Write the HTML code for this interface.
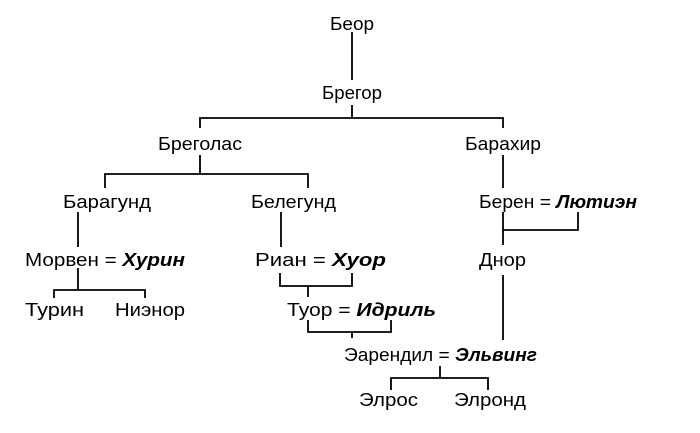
<!DOCTYPE html>
<html><head><meta charset="utf-8"><style>
html,body{margin:0;padding:0;background:#fff;}
svg{display:block;}
text{font-family:"Liberation Sans Narrow","Liberation Sans",sans-serif;font-size:18px;fill:#000;}
.i{font-style:italic;font-weight:bold;}
</style></head><body>
<svg width="700" height="433" viewBox="0 0 700 433" xmlns="http://www.w3.org/2000/svg">
<g stroke="#000" stroke-width="1.8" fill="none">
<path d="M352 32V80"/>
<path d="M352 105V118M200 128V118H503V128"/>
<path d="M200 155V174M105 188V174H308V188"/>
<path d="M503 155V188"/>
<path d="M78 212V247M281 212V247"/>
<path d="M503 212V245M578 212V230H503"/>
<path d="M78 268V290M54 298V290H145V298"/>
<path d="M280 273V286H352V273M308 286V297"/>
<path d="M308 320V332H391V320M352 332V338"/>
<path d="M503 275V340"/>
<path d="M440 366V378M391 390V378H488V390"/>
</g>
<text x="330" y="30" textLength="44" lengthAdjust="spacingAndGlyphs">Беор</text>
<text x="322" y="99" textLength="60" lengthAdjust="spacingAndGlyphs">Брегор</text>
<text x="158" y="150" textLength="84" lengthAdjust="spacingAndGlyphs">Бреголас</text>
<text x="465" y="150" textLength="76" lengthAdjust="spacingAndGlyphs">Барахир</text>
<text x="63" y="208" textLength="88" lengthAdjust="spacingAndGlyphs">Барагунд</text>
<text x="251" y="208" textLength="85" lengthAdjust="spacingAndGlyphs">Белегунд</text>
<text x="479" y="208" textLength="158" lengthAdjust="spacingAndGlyphs">Берен = <tspan class="i">Лютиэн</tspan></text>
<text x="25" y="266" textLength="160" lengthAdjust="spacingAndGlyphs">Морвен = <tspan class="i">Хурин</tspan></text>
<text x="255" y="266" textLength="131" lengthAdjust="spacingAndGlyphs">Риан  = <tspan class="i">Хуор</tspan></text>
<text x="479" y="266" textLength="47" lengthAdjust="spacingAndGlyphs">Днор</text>
<text x="25" y="316" textLength="59" lengthAdjust="spacingAndGlyphs">Турин</text>
<text x="115" y="316" textLength="70" lengthAdjust="spacingAndGlyphs">Ниэнор</text>
<text x="287" y="316" textLength="149" lengthAdjust="spacingAndGlyphs">Туор = <tspan class="i">Идриль</tspan></text>
<text x="344" y="361" textLength="193" lengthAdjust="spacingAndGlyphs">Эарендил = <tspan class="i">Эльвинг</tspan></text>
<text x="359" y="406" textLength="59" lengthAdjust="spacingAndGlyphs">Элрос</text>
<text x="454" y="406" textLength="72" lengthAdjust="spacingAndGlyphs">Элронд</text>
</svg>
</body></html>
